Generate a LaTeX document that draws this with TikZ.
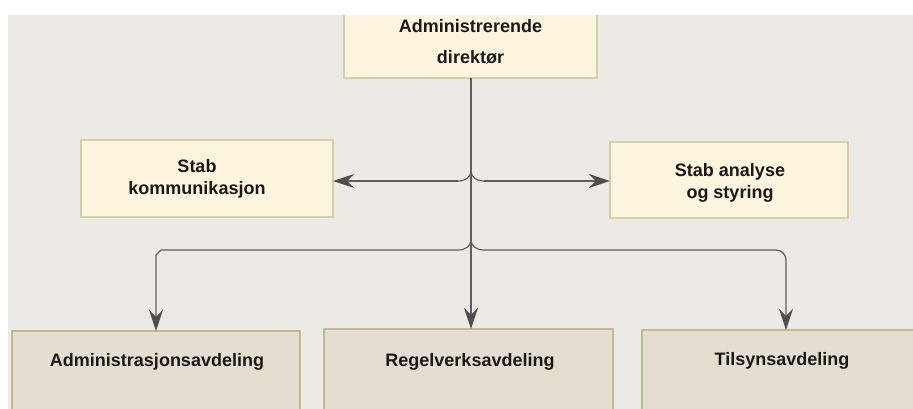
\documentclass[tikz,border=0pt]{standalone}
\usepackage{fontspec}
\setmainfont{Liberation Sans}
\usetikzlibrary{arrows.meta,calc}
\definecolor{bg}{HTML}{ECEAE5}
\definecolor{topfill}{HTML}{FDF5DE}
\definecolor{topline}{HTML}{D6CFA6}
\definecolor{botfill}{HTML}{E4DDD0}
\definecolor{botline}{HTML}{BDBD8E}
\definecolor{conn}{HTML}{5E5E5E}
\definecolor{tipcol}{HTML}{4E4E4E}
\tikzset{
  stafbox/.style={draw=topline, fill=topfill, line width=0.9pt, inner sep=0pt, outer sep=0pt},
  deptbox/.style={draw=botline, fill=botfill, line width=0.9pt, inner sep=0pt, outer sep=0pt},
  txt/.style={font=\fontsize{13.5}{16}\selectfont\bfseries, inner sep=0pt, anchor=base, text=black!90},
  link/.style={draw=conn, line width=0.9pt},
  tip/.style={-{Stealth[length=16pt,width=10.5pt,inset=5.5pt,color=tipcol]}},
}
\begin{document}
\begin{tikzpicture}[x=0.75pt,y=-0.75pt]
\fill[white] (0,0) rectangle (913,408);
\useasboundingbox (0,0) rectangle (913,408);
\begin{scope}
\clip (8,15) rectangle (930,430);
\fill[bg] (8,15) rectangle (930,430);
% boxes
\node[stafbox, minimum width=189.75pt, minimum height=51pt] (dir) at (470.5,44) {};
\node[stafbox, minimum width=189pt, minimum height=57.75pt] (sk) at (207,178.5) {};
\node[stafbox, minimum width=178.5pt, minimum height=57pt] (sa) at (729,180) {};
\node[deptbox, minimum width=216pt, minimum height=81.75pt] (adm) at (156,385.5) {};
\node[deptbox, minimum width=216.75pt, minimum height=83.25pt] (reg) at (468.5,384.5) {};
\node[deptbox, minimum width=216pt, minimum height=82.5pt] (tils) at (786,385) {};
% texts
\node[txt] (dira) at (470.5,32) {Administrerende};
\node[txt] (dirb) at (470.5,63) {direktør};
\node[txt] (ska) at (197,172) {Stab};
\node[txt] (skb) at (197,194) {kommunikasjon};
\node[txt] (saa) at (730,176) {Stab analyse};
\node[txt] (sab) at (730,198) {og styring};
\node[txt] (admt) at (157,366) {Administrasjonsavdeling};
\node[txt] (regt) at (470,366) {Regelverksavdeling};
\node[txt] (tilst) at (782,365) {Tilsynsavdeling};
% junctions
\coordinate (j1) at (471,181);
\coordinate (j2) at (471,250);
% connectors
\draw[link,tip] (dir.south -| j1) -- (j1 |- reg.north);
\draw[link,tip] ($(j1)+(-13,0)$) -- (sk.east |- j1);
\draw[link,tip] ($(j1)+(13,0)$) -- (sa.west |- j1);
\draw[link] ($(j1)+(-13,0)$) .. controls ($(j1)+(-5,0)$) and ($(j1)+(-1,-4)$) .. ($(j1)+(0,-9)$)
   .. controls ($(j1)+(1,-4)$) and ($(j1)+(5,0)$) .. ($(j1)+(13,0)$);
\draw[link] ($(j2)+(-13,0)$) .. controls ($(j2)+(-5,0)$) and ($(j2)+(-1,-4)$) .. ($(j2)+(0,-9)$)
   .. controls ($(j2)+(1,-4)$) and ($(j2)+(5,0)$) .. ($(j2)+(13,0)$);
\draw[link,tip] ($(j2)+(-13,0)$) -- ($(adm.north |- j2)+(5,0)$) -- ($(adm.north |- j2)+(0,5)$) -- (adm.north);
\draw[link,tip,rounded corners=7.5pt] ($(j2)+(13,0)$) -- (tils.north |- j2) -- (tils.north);
\end{scope}
\end{tikzpicture}
\end{document}
